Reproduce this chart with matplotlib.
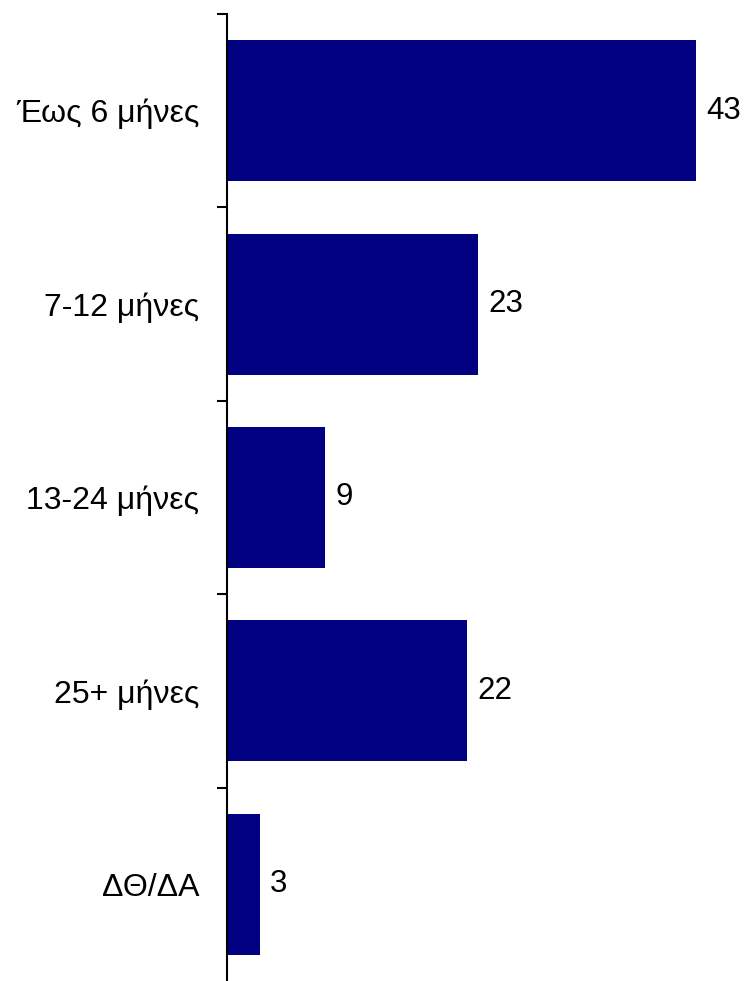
import matplotlib
matplotlib.use("Agg")
import matplotlib.pyplot as plt
import numpy as np

categories = ["Έως 6 μήνες", "7-12 μήνες", "13-24 μήνες", "25+ μήνες", "ΔΘ/ΔΑ"]
values = [43, 23, 9, 22, 3]

plt.rcParams['font.family'] = ['Liberation Sans', 'DejaVu Sans']

W, H = 749, 981
fig = plt.figure(figsize=(W / 100, H / 100), dpi=100)
ax = fig.add_axes([227 / W, 0, 1 - 227 / W, 1 - 14 / H])

n = len(categories)
pos = np.arange(n)
ax.barh(pos, values, height=0.73, color="#000080")
ax.set_ylim(n - 0.5, -0.5)
ax.set_xlim(0, 47.86)

for p, v in zip(pos, values):
    ax.text(v + 0.95, p, str(v), va="center", ha="left", fontsize=22.5)

for s in ["top", "right", "bottom"]:
    ax.spines[s].set_visible(False)
ax.spines["left"].set_linewidth(1.5)
ax.set_xticks([])

ax.set_yticks(np.arange(-0.5, n - 0.5, 1.0))
ax.set_yticklabels([])
ax.tick_params(axis="y", which="major", length=7.2, width=1.5)
ax.set_yticks(pos, minor=True)
ax.set_yticklabels(categories, minor=True, fontsize=23)
ax.tick_params(axis="y", which="minor", length=0, pad=20)

fig.savefig("out.png", dpi=100)
